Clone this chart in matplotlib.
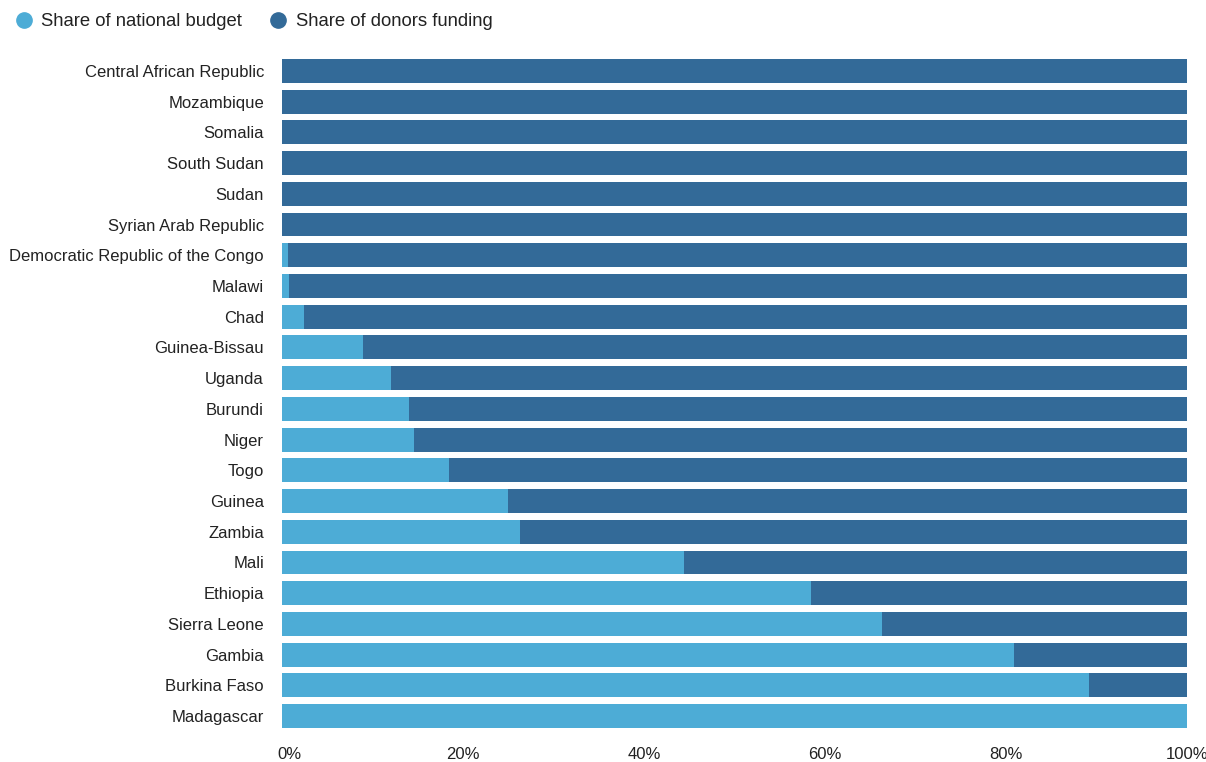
import matplotlib.pyplot as plt
from matplotlib.ticker import FuncFormatter
from matplotlib.transforms import ScaledTranslation

countries = [
    "Central African Republic", "Mozambique", "Somalia", "South Sudan", "Sudan",
    "Syrian Arab Republic", "Democratic Republic of the Congo", "Malawi", "Chad",
    "Guinea-Bissau", "Uganda", "Burundi", "Niger", "Togo", "Guinea", "Zambia",
    "Mali", "Ethiopia", "Sierra Leone", "Gambia", "Burkina Faso", "Madagascar",
]
national_budget = [0, 0, 0, 0, 0, 0, 0.7, 0.8, 2.4, 8.9, 12.0, 14.0, 14.6, 18.5,
                   25.0, 26.3, 44.4, 58.5, 66.3, 80.9, 89.2, 100]
donors_funding = [100 - v for v in national_budget]
x_ticks = [0, 20, 40, 60, 80, 100]

light = "#4dacd6"
dark = "#336a98"

plt.rcParams["font.family"] = ["Liberation Sans", "DejaVu Sans"]

fig = plt.figure(figsize=(12.06, 7.62), dpi=100)
ax = fig.add_axes([282 / 1206, 1 - 731.5 / 762, 905 / 1206, (731.5 - 55.5) / 762])

y = list(range(len(countries)))
ax.barh(y, national_budget, height=0.78, color=light, linewidth=0)
ax.barh(y, donors_funding, left=national_budget, height=0.78, color=dark,
        linewidth=0)

ax.set_xlim(0, 100)
ax.set_ylim(len(countries) - 0.5, -0.5)
ax.set_yticks(y)
ax.set_yticklabels(countries, fontsize=12, color="#222222")
ax.set_xticks(x_ticks)
ax.xaxis.set_major_formatter(FuncFormatter(lambda v, _: f"{v:.0f}%"))
ax.tick_params(axis="x", labelsize=12, labelcolor="#222222", length=0, pad=11)
ax.tick_params(axis="y", length=0, pad=13)
for s in ax.spines.values():
    s.set_visible(False)
# nudge the first label so it sits just right of the axis start
first = ax.get_xticklabels()[0]
first.set_transform(first.get_transform() + ScaledTranslation(7 / 100, 0, fig.dpi_scale_trans))

# legend drawn as markers + text in figure coordinates
fig.text(41 / 1206, 1 - 21 / 762, "Share of national budget", fontsize=13.3,
         color="#222222", va="center", ha="left")
fig.text(296 / 1206, 1 - 21 / 762, "Share of donors funding", fontsize=13.3,
         color="#222222", va="center", ha="left")
fig.lines.append(plt.Line2D([24 / 1206], [1 - 20 / 762], marker="o", markersize=11,
                            color=light, transform=fig.transFigure, linestyle=""))
fig.lines.append(plt.Line2D([278 / 1206], [1 - 20 / 762], marker="o", markersize=11,
                            color=dark, transform=fig.transFigure, linestyle=""))

fig.savefig("out.png", dpi=100)
